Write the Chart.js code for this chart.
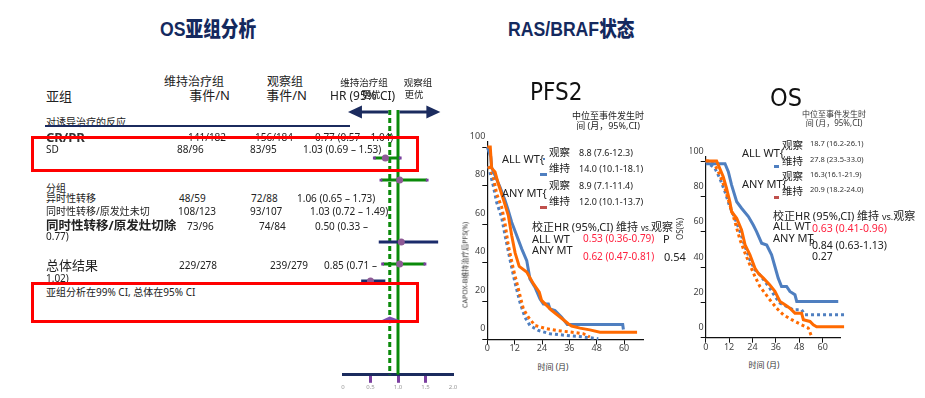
<!DOCTYPE html>
<html lang="zh-CN">
<head>
<meta charset="utf-8">
<title>OS亚组分析 / RAS/BRAF状态</title>
<script src="https://cdn.jsdelivr.net/npm/chart.js@4.4.1/dist/chart.umd.min.js"></script>
<style>
html,body{margin:0;padding:0;background:#fff;}
body{width:925px;height:398px;position:relative;overflow:hidden;font-family:"Noto Sans","Noto Sans CJK SC",sans-serif;color:#222;}
.t{position:absolute;white-space:nowrap;line-height:1;transform-origin:0 50%;}
canvas{position:absolute;}
.box{position:absolute;box-sizing:border-box;border:3px solid #ff0000;}
.mk{position:absolute;}
</style>
</head>
<body>
<canvas id="forest" width="130" height="295" style="left:333px;top:100px"></canvas>
<canvas id="pfs2" width="178" height="230" style="left:470px;top:130px"></canvas>
<canvas id="os" width="160" height="213" style="left:690px;top:145px"></canvas>
<script>
// ---------------- DATA ----------------
// Forest plot (OS subgroup analysis)
const subgroups = ['CR/PR', 'SD', '异时性转移', '同时性转移/原发灶未切', '同时性转移/原发灶切除', '总体结果'];
const maintEventsN = ['141/182', '88/96', '48/59', '108/123', '73/96', '229/278'];
const obsEventsN = ['156/184', '83/95', '72/88', '93/107', '74/84', '239/279'];
const hrValues = [0.77, 1.03, 1.06, 1.03, 0.50, 0.85];
const ciLow = [0.57, 0.69, 0.65, 0.72, 0.33, 0.71];
const ciHigh = [1.04, 1.53, 1.73, 1.49, 0.77, 1.02];
const forestTicks = [0, 0.5, 1, 1.5, 2];

// Kaplan-Meier curves: [month, %]
const pfs2MtMaint = [[0,100],[1.3,100],[1.9,89],[3.4,87],[4.8,81],[7,73],[9.2,64.5],[10.7,54],[12.2,45],[14,38],[17.3,35],[20.2,29],[22.8,24.6],[23.8,20.3],[26,17.7],[28.2,15.1],[31.9,11.7],[35.5,8.2],[37,7],[40.7,5.9],[45,5],[49.4,3.8],[65.7,3.8]];
const pfs2WtMaint = [[0,100],[1.5,95],[1.9,89.5],[3.4,85.2],[5.6,79.1],[7.8,72.2],[9.2,67],[10.7,60.9],[12.9,54],[15.1,47.1],[17.3,41],[18.7,31.5],[20.9,27.2],[23.1,21.1],[24.6,18.5],[26.8,18.5],[27.5,15.9],[29.7,15],[32.6,11.6],[35.1,7.8],[59.4,7.8],[59.7,5.2]];
const pfs2MtObs = [[0.5,90],[2.6,85],[4.1,75.7],[6.3,68.8],[7.8,60.1],[9.2,49],[11.4,36.8],[13.6,26.4],[15.8,16],[18,11.6],[20.9,7.3],[26,5.6],[30.4,4.7],[36.3,3.9],[42.1,3],[45,1.3]];
const pfs2WtObs = [[0.5,90],[2.6,80],[4.1,71.3],[6.3,63.5],[7.8,54],[9.9,41.9],[12.1,29.8],[14.3,19.4],[16.5,11.6],[18.7,7.3],[22.4,4.7],[27.5,3],[34.8,2.1],[42.1,1.3],[48.7,0.4]];

const osMtMaint = [[0,100],[5.6,100],[6.5,97.7],[9,91.1],[10.7,84.5],[12.4,77],[13.3,71.3],[15.9,67.6],[18.4,61],[20.2,52.5],[22.7,46.9],[25.3,39.3],[27,36.5],[29.6,33.7],[32.9,29.9],[35.5,26.2],[38.1,20.5],[40.7,18.6],[43.2,16.7],[45.8,13.9],[49.2,13.9],[50.1,10.2],[53.5,9.2],[55.2,7.3],[56.9,6.2],[71,6.2]];
const osWtMaint = [[0,98.5],[9.9,98.5],[11.6,94],[13.3,86.4],[15.9,77],[18.4,73.3],[21.9,68.6],[24.4,63.8],[26.1,60.1],[28.7,53.5],[31.3,52.5],[33.8,46.9],[35.5,40.3],[37.2,33.7],[38.9,29],[41.5,29],[43.2,26.2],[45.8,24.3],[46.7,20.5],[68,20.5]];
const osWtObs = [[0,100],[4.8,95.8],[7.3,90.1],[9.9,82.6],[12.4,74.1],[15,67.6],[17.6,60.1],[20.2,51.6],[22.7,44.1],[25.3,38.4],[27.8,35.6],[30.4,31.8],[32.9,28],[35.5,23.4],[38.1,19.6],[41.5,17.7],[44.9,15.8],[49.2,15.8],[50.9,13],[72,13]];
const osMtObs = [[0,100],[2,100],[4.8,97.7],[7.3,92],[9.9,84.5],[12.4,75.1],[15,65.7],[17.6,55.4],[20.2,47.8],[22.7,41.2],[25.3,34.6],[27.8,29],[30.4,25.2],[32.9,21.5],[36.4,16.7],[39.8,13],[44.1,10.2],[49.2,7.3],[52.6,5.5],[54.3,0.8]];

const kmXTicks = [0, 12, 24, 36, 48, 60];
const kmYTicks = [0, 20, 40, 60, 80, 100];

const medianLabels = ['观察', '维持', '观察', '维持'];
const pfs2Medians = ['8.8 (7.6-12.3)', '14.0 (10.1-18.1)', '8.9 (7.1-11.4)', '12.0 (10.1-13.7)'];
const osMedians = ['18.7 (16.2-26.1)', '27.8 (23.5-33.0)', '16.3(16.1-21.9)', '20.9 (18.2-24.0)'];
const pfs2AdjHR = ['0.53 (0.36-0.79)', '0.62 (0.47-0.81)'];
const osAdjHR = ['0.63 (0.41-0.96)', '0.84 (0.63-1.13)'];
const pfs2P = '0.54';
const osP = '0.27';

// ---------------- LAYOUT / STYLE ----------------
const rowTextY = [137, 149, 198, 211, 226, 265];
const rowLabelFont = [[13, true], [10, false], [10, false], [10, false], [12.5, true], [13, false]];
const colMaintX = [188, 177, 179, 178, 187, 179];
const colObsX = [255, 250, 251, 250, 259, 270];
const colHrX = [315, 303, 297, 310, 315, 324];
const hrWrapY = [0, 0, 0, 0, 236, 278];
const forestRow = [4.35, 6.35, 11.97, 13.96, 15.5, 19.03];
const ROWMAX = 24;
const ciColors = ['#0a8a0a', '#0a8a0a', '#1b2b6b', '#0a8a0a', '#1b2b6b'];
const ciCaps = [true, true, false, true, false];
const NAVY = '#1b2b5e', GREEN = '#0a8a0a', PURPLE = '#7b3fa0', DOT = '#8e5a96';
const BLUE = '#4f7fc0', ORANGE = '#ff6a00', RED = '#ff1f3d';

Chart.defaults.font.family = '"Noto Sans","Noto Sans CJK SC",sans-serif';

// ---------------- TEXT ----------------
function T(str, x, y, size, o = {}) {
  const d = document.createElement('div');
  d.className = 't';
  if (o.html) d.innerHTML = str; else d.textContent = str;
  d.style.left = x + 'px';
  d.style.top = y + 'px';
  d.style.fontSize = size + 'px';
  if (o.bold) d.style.fontWeight = o.bold === true ? 'bold' : o.bold;
  if (o.color) d.style.color = o.color;
  if (o.family) d.style.fontFamily = o.family;
  const tx = o.align === 'center' ? '-50%' : o.align === 'right' ? '-100%' : '0';
  if (o.rotate) d.style.transformOrigin = '50% 50%';
  d.style.transform = `translate(${tx},-50%)` + (o.rotate ? ` rotate(${o.rotate}deg)` : '') + (o.sx ? ` scaleX(${o.sx})` : '');
  document.body.appendChild(d);
  return d;
}
function box(cls, x, y, w, h, bg) {
  const d = document.createElement('div');
  d.className = cls;
  Object.assign(d.style, {left: x + 'px', top: y + 'px', width: w + 'px', height: h + 'px'});
  if (bg) d.style.background = bg;
  document.body.appendChild(d);
  return d;
}

// titles
const TITLEF = '"Liberation Sans","Noto Sans CJK SC",sans-serif';
T('OS亚组分析', 160, 28, 21, {bold: 900, color: '#14295e', family: TITLEF, sx: 0.84});
T('RAS/BRAF状态', 508, 28, 21, {bold: 900, color: '#14295e', family: TITLEF, sx: 0.84});

// forest table headers
T('维持治疗组', 194, 82, 12, {align: 'center'});
T('事件/N', 230, 95, 13, {align: 'right'});
T('观察组', 285, 82, 12, {align: 'center'});
T('事件/N', 307, 95, 13, {align: 'right'});
T('亚组', 46, 96, 13);
T('HR (95% CI)', 330, 96, 12);
T('维持治疗组', 364, 83, 9.5, {align: 'center'});
T('更优', 371, 95, 9.5, {align: 'center'});
T('观察组', 418, 83, 9.5, {align: 'center'});
T('更优', 414, 95, 9.5, {align: 'center'});
T('对诱导治疗的反应', 46, 122, 10);
T('分组', 46, 188, 10);
T('亚组分析在99% CI, 总体在95% CI', 46, 292, 10);
box('mk', 45, 125, 305, 2.2, NAVY);

subgroups.forEach((s, i) => {
  const y = rowTextY[i];
  T(s, 46, y, rowLabelFont[i][0], {bold: rowLabelFont[i][1], color: i === 0 ? '#333' : '#222'});
  T(maintEventsN[i], colMaintX[i], y, 10);
  T(obsEventsN[i], colObsX[i], y, 10);
  const h = hrValues[i].toFixed(2), l = ciLow[i].toFixed(2), u = ciHigh[i].toFixed(2);
  if (hrWrapY[i]) {
    T(`${h} (${l} –`, colHrX[i], y, 10);
    T(`${u})`, 46, hrWrapY[i], 10);
  } else {
    T(`${h} (${l} – ${u})`, colHrX[i], y, 10);
  }
});

// PFS2 panel text
const NARROW = '"Liberation Sans Narrow","DejaVu Sans Condensed","Liberation Sans",sans-serif';
T('PFS2', 530, 92, 24, {family: NARROW, color: '#111'});
T('中位至事件发生时', 608, 115, 9, {align: 'center'});
T('间 (月，95%,CI)', 608, 125, 9, {align: 'center'});
const pfsRowY = [152, 168, 185, 201];
medianLabels.forEach((m, i) => {
  T(m, 549, pfsRowY[i], 10.5);
  T(pfs2Medians[i], 579, pfsRowY[i] - 0.5, 9);
});
T('ALL WT{', 502, 158, 11);
T('ANY MT{', 502, 192, 11);
box('mk', 543, 158, 2, 2, BLUE);
box('mk', 540, 173, 7, 2.5, BLUE);
box('mk', 540, 206, 7, 2.5, '#c0504d');
T('校正HR (95%,CI) 维持 <span style="font-size:8px">vs.</span>观察', 532, 226, 11, {html: true});
T('ALL WT', 532, 238, 11);
T('ANY MT', 532, 249, 11);
T(pfs2AdjHR[0], 583, 238, 10, {color: RED});
T(pfs2AdjHR[1], 583, 256, 10, {color: RED});
T('P', 663, 238, 11);
T(pfs2P, 664, 256, 11);
T('CAPOX-B维持治疗后PFS(%)', 465, 265, 7, {align: 'center', rotate: -90, color: '#333'});
T('时间 (月)', 553, 367, 8, {align: 'center', color: '#333'});

// OS panel text
T('OS', 770, 97, 25, {family: NARROW, color: '#111'});
T('中位至事件发生时', 834, 114, 8, {align: 'center', color: '#333'});
T('间 (月，95%,CI)', 834, 123, 8, {align: 'center', color: '#333'});
const osRowY = [145, 161, 176, 191];
medianLabels.forEach((m, i) => {
  T(m, 782, osRowY[i], 10.5);
  T(osMedians[i], 810, osRowY[i] - 1, 7.5, {color: '#333'});
});
T('ALL WT{', 742, 152, 11);
T('ANY MT{', 742, 183, 11);
box('mk', 774, 165, 5, 2.5, BLUE);
box('mk', 774, 196, 5, 2.5, '#c0504d');
T('校正HR (95%,CI) 维持 <span style="font-size:9px">vs.</span>观察', 773, 215, 11, {html: true});
T('ALL WT', 773, 225, 11);
T('ANY MT', 773, 237, 11);
T('p', 809, 240, 9);
T(osAdjHR[0], 812, 228, 10.5, {color: RED});
T(osAdjHR[1], 812, 245, 10.5);
T(osP, 812, 256, 10.5);
T('OS(%)', 680, 229, 8, {align: 'center', rotate: -90, color: '#333'});
T('时间 (月)', 764, 365, 8, {align: 'center', color: '#333'});

// ---------------- FOREST CHART ----------------
const forestDeco = {
  id: 'forestDeco',
  afterDatasetsDraw(chart) {
    const {ctx, scales: {x, y}, chartArea} = chart;
    ctx.save();
    // overall diamond
    const ry = y.getPixelForValue(forestRow[5]);
    ctx.fillStyle = '#7b4fb0';
    ctx.beginPath();
    ctx.moveTo(x.getPixelForValue(ciLow[5]), ry);
    ctx.lineTo(x.getPixelForValue(hrValues[5]), ry - 3.5);
    ctx.lineTo(x.getPixelForValue(ciHigh[5]), ry);
    ctx.lineTo(x.getPixelForValue(hrValues[5]), ry + 3.5);
    ctx.closePath();
    ctx.fill();
    // favour arrows
    const ay = chartArea.top + 2;
    const tipL = x.getPixelForValue(0.09), tipR = x.getPixelForValue(1.77);
    const l0 = x.getPixelForValue(hrValues[5]) - 1.5, r0 = x.getPixelForValue(1) + 1.5;
    ctx.strokeStyle = NAVY; ctx.fillStyle = NAVY; ctx.lineWidth = 3;
    ctx.beginPath(); ctx.moveTo(l0, ay); ctx.lineTo(tipL + 12, ay); ctx.stroke();
    ctx.beginPath(); ctx.moveTo(tipL, ay); ctx.lineTo(tipL + 14, ay - 6.5); ctx.lineTo(tipL + 14, ay + 6.5); ctx.closePath(); ctx.fill();
    ctx.beginPath(); ctx.moveTo(r0, ay); ctx.lineTo(tipR - 12, ay); ctx.stroke();
    ctx.beginPath(); ctx.moveTo(tipR, ay); ctx.lineTo(tipR - 14, ay - 6.5); ctx.lineTo(tipR - 14, ay + 6.5); ctx.closePath(); ctx.fill();
    ctx.restore();
  }
};

const forestSets = [];
forestSets.push({
  data: hrValues.slice(0, 5).map((v, i) => ({x: v, y: forestRow[i]})),
  showLine: false, pointRadius: 3.5, pointBackgroundColor: DOT, pointBorderWidth: 0
});
for (let i = 0; i < 5; i++) {
  forestSets.push({
    data: [{x: ciLow[i], y: forestRow[i]}, {x: ciHigh[i], y: forestRow[i]}],
    borderColor: ciColors[i], borderWidth: 3,
    pointStyle: 'rect', pointRadius: ciCaps[i] ? 2 : 0,
    pointBackgroundColor: PURPLE, pointBorderWidth: 0
  });
}
forestSets.push({
  data: [{x: hrValues[5], y: 0}, {x: hrValues[5], y: ROWMAX}],
  borderColor: GREEN, borderWidth: 3, borderDash: [5, 3], pointRadius: 0
});
forestSets.push({
  data: [{x: 1, y: 0}, {x: 1, y: ROWMAX}],
  borderColor: GREEN, borderWidth: 3, pointRadius: 0
});

new Chart(document.getElementById('forest'), {
  type: 'line',
  data: {datasets: forestSets},
  plugins: [forestDeco],
  options: {
    responsive: false, animation: false, events: [],
    layout: {padding: {left: 10, right: 10, top: 10, bottom: 4}},
    plugins: {legend: {display: false}, tooltip: {enabled: false}},
    elements: {line: {tension: 0, fill: false}},
    scales: {
      x: {
        type: 'linear', min: 0, max: 2,
        afterBuildTicks: s => { s.ticks = forestTicks.map(v => ({value: v})); },
        afterFit: s => { s.height = 16.2; },
        grid: {drawOnChartArea: false, tickLength: 8, tickWidth: 3,
          tickColor: c => (c.tick && (c.tick.value === 0 || c.tick.value === 2)) ? 'rgba(0,0,0,0)' : PURPLE},
        border: {color: NAVY, width: 3},
        ticks: {font: {size: 6}, color: '#999', padding: 1, maxRotation: 0, autoSkip: false,
          callback: v => v === 0 ? '0' : Number(v).toFixed(1)}
      },
      y: {type: 'linear', min: 0, max: ROWMAX, reverse: true, display: false}
    }
  }
});

// ---------------- KM CHARTS ----------------
function km(id, curves, xMax, yMax, yW, xH, pad, labelOffset) {
  return new Chart(document.getElementById(id), {
    type: 'line',
    data: {
      datasets: curves.map(c => ({
        data: c.d.map(p => ({x: p[0], y: p[1]})),
        borderColor: c.color, borderWidth: 3, borderDash: c.dash ? [3, 3] : [],
        pointRadius: 0, tension: 0, fill: false, clip: false
      }))
    },
    options: {
      responsive: false, animation: false, events: [],
      layout: {padding: pad},
      plugins: {legend: {display: false}, tooltip: {enabled: false}},
      scales: {
        x: {
          type: 'linear', min: 0, max: xMax,
          afterBuildTicks: s => { s.ticks = kmXTicks.map(v => ({value: v})); },
          afterFit: s => { s.height = xH; },
          grid: {drawOnChartArea: false, tickLength: 5, tickColor: '#111', tickWidth: 1},
          border: {color: '#111', width: 1.2},
          ticks: {font: {size: 9}, color: '#444', padding: -1, maxRotation: 0, autoSkip: false}
        },
        y: {
          type: 'linear', min: 0, max: yMax,
          afterBuildTicks: s => { s.ticks = kmYTicks.map(v => ({value: v})); },
          afterFit: s => { s.width = yW; },
          grid: {drawOnChartArea: false, tickLength: 5, tickColor: '#111', tickWidth: 1},
          border: {color: '#111', width: 1.2},
          ticks: {font: {size: 9}, color: '#444', padding: -3, labelOffset: labelOffset, autoSkip: false}
        }
      }
    }
  });
}

km('pfs2', [
  {d: pfs2MtMaint, color: ORANGE},
  {d: pfs2WtMaint, color: BLUE},
  {d: pfs2MtObs, color: ORANGE, dash: true},
  {d: pfs2WtObs, color: BLUE, dash: true}
], 68.3, 102.6, 17.3, 20.5, {left: 0, right: 5, top: 12, bottom: 0}, -11);

km('os', [
  {d: osMtMaint, color: ORANGE},
  {d: osWtMaint, color: BLUE},
  {d: osMtObs, color: ORANGE, dash: true},
  {d: osWtObs, color: BLUE, dash: true}
], 68.9, 102.3, 15.7, 20.3, {left: 0, right: 10, top: 12, bottom: 0}, -10);

// red highlight boxes (on top)
box('box', 31, 136, 388, 36);
box('box', 31, 282, 388, 41);
</script>
</body>
</html>
